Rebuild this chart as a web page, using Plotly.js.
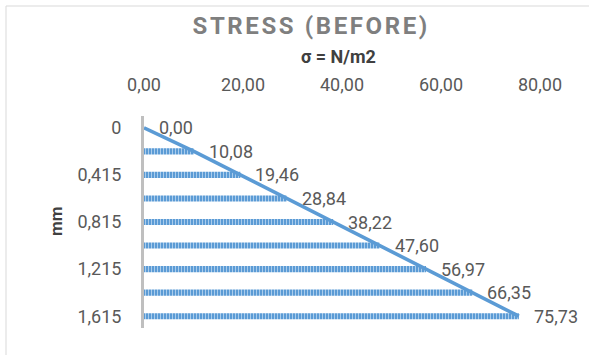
<!DOCTYPE html>
<html>
<head>
<meta charset="utf-8">
<script src="https://cdn.plot.ly/plotly-3.0.1.min.js"></script>
<style>
  html, body { margin: 0; padding: 0; background: #ffffff; }
  #chart { width: 589px; height: 355px; }
</style>
</head>
<body>
<div id="chart"></div>
<script>
// Depth below the surface (mm) and stress at each depth (N/m2)
const depthLabels = ["0", "0,215", "0,415", "0,615", "0,815", "1,015", "1,215", "1,415", "1,615"];
const stressValues = [0.00, 10.08, 19.46, 28.84, 38.22, 47.60, 56.97, 66.35, 75.73];
const shownDepthTicks = ["0", "0,415", "0,815", "1,215", "1,615"];
const stressTicks = [0, 20, 40, 60, 80];

const chartTitle = "STRESS (BEFORE)";
const stressAxisTitle = "σ = N/m2";
const depthAxisTitle = "mm";

const BLUE = "#5B9BD5";
const TEXT = "#595959";
const FONT = "Roboto, 'Open Sans', sans-serif";

// plot area in pixels, used to place the free-standing texts
const W = 589, H = 355;
const L = 144, R = 540, T = 116, B = 328;
const px = x => (x - L) / (R - L);
const py = y => (B - y) / (B - T);

const fmt = v => v.toFixed(2).replace(".", ",");

const bars = {
  type: "bar",
  orientation: "h",
  x: stressValues,
  y: depthLabels,
  width: 0.26,
  marker: {
    color: BLUE,
    line: { width: 0 },
    pattern: { shape: "|", fgcolor: "#A9CCEC", bgcolor: BLUE, size: 3, solidity: 0.35, fillmode: "replace" }
  },
  hoverinfo: "skip",
  showlegend: false
};

const profile = {
  type: "scatter",
  mode: "lines",
  x: stressValues,
  y: depthLabels,
  line: { color: BLUE, width: 3.6 },
  hoverinfo: "skip",
  showlegend: false
};

// value labels just right of each bar end
const valueLabels = stressValues.map((v, i) => ({
  x: v, y: depthLabels[i], xref: "x", yref: "y",
  text: fmt(v), showarrow: false,
  xanchor: "left", yanchor: "middle", xshift: 13,
  font: { family: FONT, size: 18, color: TEXT }
}));

const layout = {
  width: W, height: H,
  margin: { l: L, r: W - R, t: T, b: H - B, pad: 0 },
  paper_bgcolor: "#ffffff",
  plot_bgcolor: "#ffffff",
  separators: ",.",
  barmode: "overlay",
  xaxis: {
    side: "top",
    range: [0, 80],
    tickvals: stressTicks,
    tickformat: ".2f",
    showgrid: false, zeroline: false, showline: false,
    ticks: "",
    ticklabelstandoff: 20,
    tickfont: { family: FONT, size: 18, color: TEXT },
    fixedrange: true
  },
  yaxis: {
    type: "category",
    categoryorder: "array",
    categoryarray: depthLabels,
    range: [depthLabels.length - 0.5, -0.5],
    tickvals: shownDepthTicks,
    showgrid: false, zeroline: false,
    showline: true, linecolor: "#BFBFBF", linewidth: 3,
    ticks: "",
    ticklabelstandoff: 16,
    tickfont: { family: FONT, size: 18, color: TEXT },
    fixedrange: true
  },
  annotations: [
    {
      xref: "paper", yref: "paper", x: px(311), y: py(26),
      text: "<b>" + chartTitle + "</b>", showarrow: false,
      xanchor: "center", yanchor: "middle",
      font: { family: FONT, size: 24, color: "#7F7F7F" }
    },
    {
      xref: "paper", yref: "paper", x: px(338), y: py(57),
      text: "<b>" + stressAxisTitle + "</b>", showarrow: false,
      xanchor: "center", yanchor: "middle",
      font: { family: FONT, size: 18, color: "#404040" }
    },
    {
      xref: "paper", yref: "paper", x: px(56), y: py(222),
      text: "<b>" + depthAxisTitle + "</b>", showarrow: false, textangle: -90,
      xanchor: "center", yanchor: "middle",
      font: { family: FONT, size: 17, color: "#404040" }
    }
  ].concat(valueLabels),
  shapes: [
    {
      type: "rect", xref: "paper", yref: "paper",
      x0: px(6), x1: px(640), y0: py(420), y1: py(6),
      line: { color: "#D9D9D9", width: 1 }, fillcolor: "rgba(0,0,0,0)", layer: "below"
    }
  ]
};

// spaced-out lettering for the chart heading
function spaceTitle(gd) {
  const t = gd.querySelector('.annotation[data-index="0"] text');
  if (t) t.style.letterSpacing = "2.6px";
}

Plotly.newPlot("chart", [bars, profile], layout, { displayModeBar: false, staticPlot: true })
  .then(gd => {
    spaceTitle(gd);
    gd.on("plotly_afterplot", () => spaceTitle(gd));
  });
</script>
</body>
</html>
